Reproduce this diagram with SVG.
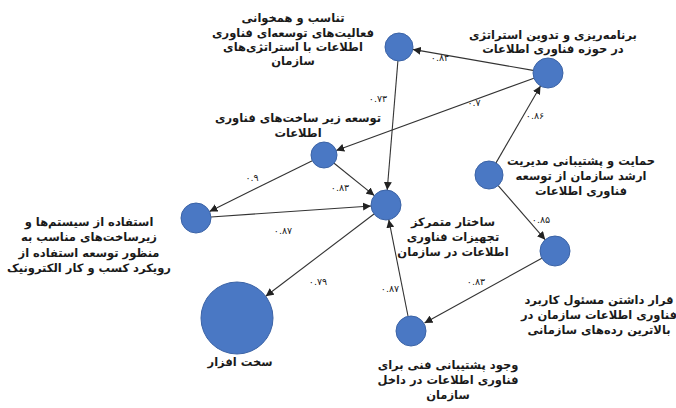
<svg xmlns="http://www.w3.org/2000/svg" width="676" height="408" viewBox="0 0 676 408">
<style>
.bg{fill:#ffffff}
.node{fill:#4a78c4;stroke:#3b63a6;stroke-width:1}
.lbl{font-family:"DejaVu Sans",sans-serif;font-size:11.5px;font-weight:bold;fill:#1a1a1a;text-anchor:middle;direction:rtl}
.num{font-family:"DejaVu Sans",sans-serif;font-size:9.5px;fill:#1a1a1a;text-anchor:middle}
.edge{stroke:#333;stroke-width:1.1;fill:none;marker-end:url(#ah)}
</style>
<defs>
<marker id="ah" viewBox="0 0 10 10" refX="10" refY="5" markerWidth="8" markerHeight="8" markerUnits="userSpaceOnUse" orient="auto">
<path d="M0,0 L10,5 L0,10 z" fill="#222"/>
</marker>
</defs>
<rect class="bg" x="0" y="0" width="676" height="408"/>
<g id="connectors">
<line class="edge" x1="533" y1="70.4" x2="412.8" y2="49.4"/>
<line class="edge" x1="533.9" y1="78.2" x2="336.2" y2="150.5"/>
<line class="edge" x1="496" y1="162.9" x2="540.5" y2="86"/>
<line class="edge" x1="498.2" y1="185.6" x2="545.2" y2="239.7"/>
<line class="edge" x1="397.9" y1="61" x2="387.2" y2="190"/>
<line class="edge" x1="334.1" y1="163.2" x2="374.3" y2="195.6"/>
<line class="edge" x1="312.3" y1="160.7" x2="209.5" y2="211.4"/>
<line class="edge" x1="211" y1="217" x2="371" y2="206"/>
<line class="edge" x1="374" y1="214" x2="265.7" y2="296.3"/>
<line class="edge" x1="408" y1="316" x2="388.8" y2="219.7"/>
<line class="edge" x1="541.8" y1="258.2" x2="424.5" y2="323"/>
<text class="num" x="440" y="61">۰.۸۴</text>
<text class="num" x="474" y="106">۰.۷</text>
<text class="num" x="535" y="119">۰.۸۶</text>
<text class="num" x="378" y="102">۰.۷۳</text>
<text class="num" x="340" y="191">۰.۸۳</text>
<text class="num" x="252" y="181">۰.۹</text>
<text class="num" x="283" y="234">۰.۸۷</text>
<text class="num" x="318" y="285">۰.۷۹</text>
<text class="num" x="390" y="292">۰.۸۷</text>
<text class="num" x="476" y="285">۰.۸۳</text>
<text class="num" x="541" y="223">۰.۸۵</text>
</g>
<g id="n1">
<circle class="node" cx="399" cy="47" r="14"/>
<text class="lbl" x="293" y="22">تناسب و همخوانی</text>
<text class="lbl" x="293" y="37">فعالیت‌های توسعه‌ای فناوری</text>
<text class="lbl" x="293" y="51">اطلاعات با استراتژی‌های</text>
<text class="lbl" x="293" y="65">سازمان</text>
</g>
<g id="n2">
<circle class="node" cx="548" cy="73" r="15"/>
<text class="lbl" x="553" y="39">برنامه‌ریزی و تدوین استراتژی</text>
<text class="lbl" x="553" y="53">در حوزه فناوری اطلاعات</text>
</g>
<g id="n3">
<circle class="node" cx="324" cy="155" r="13"/>
<text class="lbl" x="298" y="122">توسعه زیر ساخت‌های فناوری</text>
<text class="lbl" x="298" y="137">اطلاعات</text>
</g>
<g id="n4">
<circle class="node" cx="196" cy="218" r="15"/>
<text class="lbl" x="89" y="226">استفاده از سیستم‌ها و</text>
<text class="lbl" x="89" y="241">زیرساخت‌های مناسب به</text>
<text class="lbl" x="89" y="257">منظور توسعه استفاده از</text>
<text class="lbl" x="89" y="272">رویکرد کسب و کار الکترونیک</text>
</g>
<g id="n5">
<circle class="node" cx="386" cy="205" r="15"/>
<text class="lbl" x="453" y="226">ساختار متمرکز</text>
<text class="lbl" x="453" y="241">تجهیزات فناوری</text>
<text class="lbl" x="453" y="256">اطلاعات در سازمان</text>
</g>
<g id="n6">
<circle class="node" cx="489" cy="175" r="14"/>
<text class="lbl" x="581" y="165">حمایت و پشتیبانی مدیریت</text>
<text class="lbl" x="581" y="180">ارشد سازمان از توسعه</text>
<text class="lbl" x="581" y="195">فناوری اطلاعات</text>
</g>
<g id="n7">
<circle class="node" cx="555" cy="251" r="15"/>
<text class="lbl" x="599" y="304">قرار داشتن مسئول کاربرد</text>
<text class="lbl" x="599" y="319">فناوری اطلاعات سازمان در</text>
<text class="lbl" x="599" y="334">بالاترین رده‌های سازمانی</text>
</g>
<g id="n8">
<circle class="node" cx="411" cy="331" r="15"/>
<text class="lbl" x="448" y="369">وجود پشتیبانی فنی برای</text>
<text class="lbl" x="448" y="384">فناوری اطلاعات در داخل</text>
<text class="lbl" x="448" y="399">سازمان</text>
</g>
<g id="n9">
<circle class="node" cx="237" cy="318" r="36"/>
<text class="lbl" x="240" y="366">سخت افزار</text>
</g>
</svg>
